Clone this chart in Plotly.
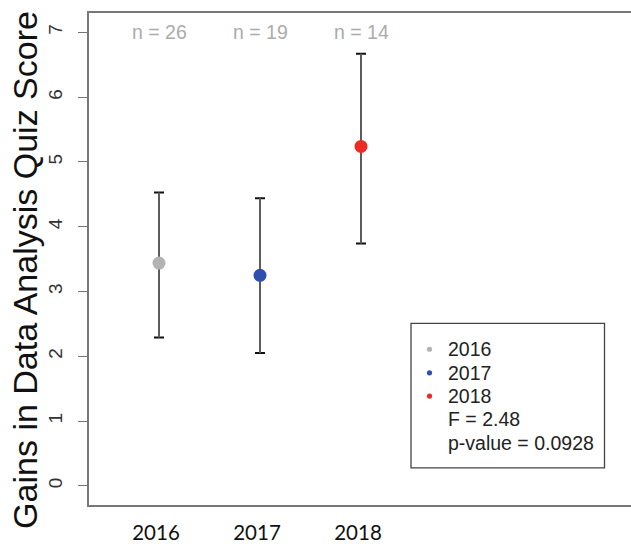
import plotly.graph_objects as go

years = ["2016", "2017", "2018"]
xpos = [1, 2, 3]
means = [3.44, 3.25, 5.24]
upper = [4.53, 4.44, 6.67]
lower = [2.29, 2.05, 3.74]
counts = [26, 19, 14]
colors = ["#B3B3B3", "#2F4FAF", "#EE2A24"]
f_stat = 2.48
p_value = 0.0928

W, H = 631, 544
L, R, T, B = 89, 0, 13, 34
pw, ph = W - L - R, H - T - B

def px_x(p):
    return (p - L) / pw

def px_y(p):
    return (H - B - p) / ph

fig = go.Figure()

# black caps (error bars drawn first)
fig.add_trace(go.Scatter(
    x=xpos, y=means, mode="markers",
    marker=dict(size=13, color="rgba(0,0,0,0)"),
    error_y=dict(type="data", symmetric=False,
                 array=[u - m for u, m in zip(upper, means)],
                 arrayminus=[m - l for m, l in zip(means, lower)],
                 color="#111111", thickness=2, width=5),
    showlegend=False, hoverinfo="skip"))

# gray stems + coloured means
for i in range(len(years)):
    fig.add_trace(go.Scatter(
        x=[xpos[i]], y=[means[i]], mode="markers", name=years[i],
        marker=dict(size=13, color=colors[i]),
        error_y=dict(type="data", symmetric=False,
                     array=[upper[i] - means[i]],
                     arrayminus=[means[i] - lower[i]],
                     color="#666666", thickness=1.8, width=0),
        showlegend=False, hoverinfo="skip"))

# n labels
for i in range(len(years)):
    fig.add_annotation(x=xpos[i], y=7, text=f"n = {counts[i]}", showarrow=False,
                       font=dict(family="Liberation Sans", size=19.5, color="#ABABAB"),
                       xanchor="center", yanchor="middle")

# y title
fig.add_annotation(xref="paper", yref="paper", x=px_x(25), y=px_y(272.5),
                   text="Gains in Data Analysis Quiz Score", textangle=-90,
                   showarrow=False, xanchor="center", yanchor="middle",
                   font=dict(family="Liberation Sans", size=34, color="#111111"))

# legend (box, keys, text)
legend_labels = years + [f"F = {f_stat}", f"p-value = {p_value}"]
legend_rows = [352.7, 376.5, 400, 423.5, 447]
fig.add_shape(type="rect", xref="paper", yref="paper",
              x0=px_x(411), x1=px_x(604.5), y0=px_y(472.5), y1=px_y(326.5),
              line=dict(color="#444444", width=1.3), fillcolor="white", layer="below")
for i, lab in enumerate(legend_labels):
    fig.add_annotation(xref="paper", yref="paper", x=px_x(445.5), y=px_y(legend_rows[i]),
                       text=lab, showarrow=False, xanchor="left", yanchor="middle",
                       font=dict(family="Liberation Sans", size=19.5, color="#222222"))
for i in range(len(years)):
    r = 2.6
    cx, cy = 429.5, legend_rows[i]
    fig.add_shape(type="circle", xref="paper", yref="paper",
                  x0=px_x(cx - r), x1=px_x(cx + r), y0=px_y(cy + r), y1=px_y(cy - r),
                  line=dict(width=0), fillcolor=colors[i])

fig.update_layout(
    width=W, height=H,
    margin=dict(l=L, r=R, t=T, b=B),
    paper_bgcolor="white", plot_bgcolor="white",
    showlegend=False,
    xaxis=dict(range=[0.307, 5.673], tickvals=xpos, ticktext=years,
               showgrid=False, zeroline=False, ticks="",
               showline=True, linecolor="#777777", linewidth=1.5, mirror=True,
               ticklabelstandoff=9, ticklabelshift=-3,
               tickfont=dict(family="Lato", size=20.5, color="#111111")),
    yaxis=dict(range=[-0.295, 7.30], tickvals=list(range(0, 8)),
               showgrid=False, zeroline=False,
               ticks="outside", ticklen=9, tickcolor="#777777", tickwidth=1.3,
               showline=True, linecolor="#777777", linewidth=1.5, mirror=False,
               tickangle=-90, ticklabelstandoff=9,
               tickfont=dict(family="Liberation Sans", size=19, color="#333333")),
)

fig.write_html("out.html", config={"displayModeBar": False},
               post_script="document.body.style.margin='0';document.body.style.padding='0';document.body.style.overflow='hidden';")
